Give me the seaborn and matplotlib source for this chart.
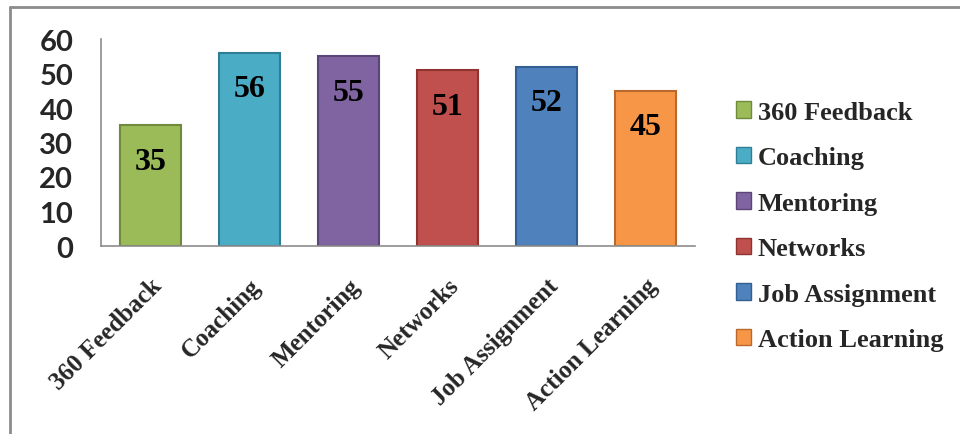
import matplotlib
matplotlib.use("Agg")
import matplotlib.pyplot as plt
import matplotlib.transforms as mtransforms
from matplotlib.patches import Patch
import seaborn as sns
import pandas as pd

categories = ["360 Feedback", "Coaching", "Mentoring", "Networks", "Job Assignment", "Action Learning"]
values = [35, 56, 55, 51, 52, 45]
colors = ["#9BBB59", "#4BACC6", "#8064A2", "#C0504D", "#4F81BD", "#F79646"]
edge_colors = ["#6E8A3A", "#2E7F96", "#5A4478", "#8E3330", "#335E93", "#B8692B"]
yticks = [0, 10, 20, 30, 40, 50, 60]

sns.set_style("white")
df = pd.DataFrame({"cat": categories, "val": values})

fig = plt.figure(figsize=(9.6, 4.35), dpi=100)
# outer frame lines (top and left)
fig.add_artist(plt.Line2D([10/960, 1.0], [1 - 8/435, 1 - 8/435], transform=fig.transFigure,
                          color="#8c8c8c", lw=2))
fig.add_artist(plt.Line2D([10/960, 10/960], [0, 1 - 8/435], transform=fig.transFigure,
                          color="#8c8c8c", lw=2))

ax = fig.add_axes([101/960, (435-247)/435, (695-101)/960, (247-40)/435])
sns.barplot(data=df, x="cat", y="val", hue="cat", palette=colors, width=0.61,
            legend=False, ax=ax, saturation=1)
for p, ec in zip(ax.patches, edge_colors):
    p.set_edgecolor(ec)
    p.set_linewidth(1.5)

ax.set_ylim(0, 60)
ax.set_xlim(-0.5, len(categories) - 0.5)
ax.set_yticks(yticks)
ax.set_yticklabels([str(t) for t in yticks], fontsize=21, fontweight="bold", family="Lato")
ax.tick_params(axis="y", length=0, pad=20)
ax.tick_params(axis="x", length=0, pad=0)
ax.set_xlabel("")
ax.set_ylabel("")
for s in ["top", "right"]:
    ax.spines[s].set_visible(False)
for s in ["left", "bottom"]:
    ax.spines[s].set_color("#8c8c8c")
    ax.spines[s].set_linewidth(1.2)

ax.set_xticks(range(len(categories)))
ax.set_xticklabels(categories, rotation=45, ha="right", va="center", rotation_mode="anchor",
                   fontsize=18, fontweight="bold", family="Liberation Serif")
offset = mtransforms.ScaledTranslation(8/100, -36/100, fig.dpi_scale_trans)
for lbl in ax.get_xticklabels():
    lbl.set_transform(lbl.get_transform() + offset)

for i, v in enumerate(values):
    ax.annotate(str(v), (i, v), xytext=(0, -36/100*72), textcoords="offset points",
                ha="center", va="center", fontsize=23, fontweight="bold",
                family="Liberation Serif", color="black")

handles = [Patch(facecolor=c, edgecolor=ec, linewidth=1) for c, ec in zip(colors, edge_colors)]
leg = fig.legend(handles, categories, loc="upper left", bbox_to_anchor=(736/960, 1 - 102/435),
                 frameon=False, prop={"family": "Liberation Serif", "weight": "bold", "size": 19},
                 handlelength=0.58, handleheight=0.58, handletextpad=0.25, labelspacing=0.85,
                 borderaxespad=0, borderpad=0)

fig.savefig("out.png", dpi=100)
